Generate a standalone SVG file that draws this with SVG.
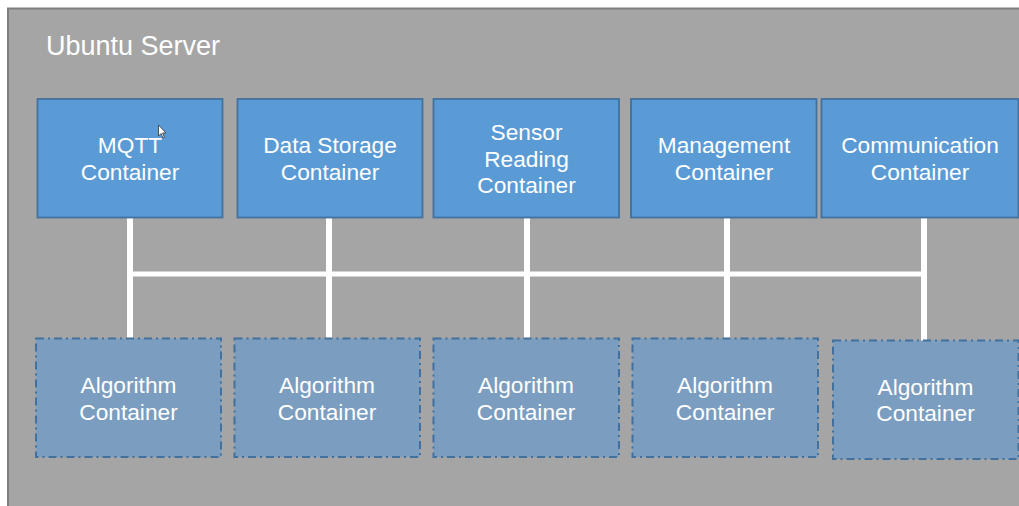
<svg xmlns="http://www.w3.org/2000/svg" width="1019" height="506" viewBox="0 0 1019 506">
<style>
.bg{fill:#a5a5a5;stroke:#7f7f7f;stroke-width:2}
.top{fill:#5b9bd5;stroke:#41719c;stroke-width:1.8}
.alg{fill:#7b9ec0;stroke:#41719c;stroke-width:2;stroke-dasharray:8 4 2 4}
.t{font-family:"Liberation Sans",Arial,sans-serif;font-size:22.7px;fill:#ffffff;text-anchor:middle}
.title{font-family:"Liberation Sans",Arial,sans-serif;font-size:27px;fill:#ffffff}
.c{stroke:#ffffff;fill:none}
</style>
<rect x="0" y="0" width="1019" height="506" fill="#ffffff"/>
<g id="server">
<rect class="bg" x="8" y="8.5" width="1030" height="520"/>
<text class="title" x="46" y="55">Ubuntu Server</text>
</g>
<g id="connectors">
<line class="c" x1="130" y1="274" x2="924" y2="274" stroke-width="5"/>
<line class="c" x1="130" y1="217" x2="130" y2="339" stroke-width="6"/>
<line class="c" x1="329" y1="217" x2="329" y2="339" stroke-width="6"/>
<line class="c" x1="527" y1="217" x2="527" y2="339" stroke-width="6"/>
<line class="c" x1="727" y1="217" x2="727" y2="339" stroke-width="6"/>
<line class="c" x1="924" y1="217" x2="924" y2="341" stroke-width="6"/>
</g>
<g id="mqtt">
<rect class="top" x="37.5" y="99" width="185" height="118.5"/>
<text class="t" x="130" y="153">MQTT</text>
<text class="t" x="130" y="180">Container</text>
</g>
<g id="datastorage">
<rect class="top" x="237.5" y="99" width="185" height="118.5"/>
<text class="t" x="330" y="153">Data Storage</text>
<text class="t" x="330" y="180">Container</text>
</g>
<g id="sensor">
<rect class="top" x="433.5" y="99" width="185.5" height="118.5"/>
<text class="t" x="526.5" y="140">Sensor</text>
<text class="t" x="526.5" y="166.5">Reading</text>
<text class="t" x="526.5" y="193">Container</text>
</g>
<g id="management">
<rect class="top" x="631" y="99" width="185.5" height="118.5"/>
<text class="t" x="724" y="153">Management</text>
<text class="t" x="724" y="180">Container</text>
</g>
<g id="communication">
<rect class="top" x="821.5" y="99" width="197" height="118.5"/>
<text class="t" x="920" y="153">Communication</text>
<text class="t" x="920" y="180">Container</text>
</g>
<g id="alg1">
<rect class="alg" x="36" y="338.5" width="185" height="118.5"/>
<text class="t" x="128.5" y="393">Algorithm</text>
<text class="t" x="128.5" y="419.5">Container</text>
</g>
<g id="alg2">
<rect class="alg" x="234.5" y="338.5" width="185.5" height="118.5"/>
<text class="t" x="327" y="393">Algorithm</text>
<text class="t" x="327" y="419.5">Container</text>
</g>
<g id="alg3">
<rect class="alg" x="433.5" y="338.5" width="185.5" height="118.5"/>
<text class="t" x="526" y="393">Algorithm</text>
<text class="t" x="526" y="419.5">Container</text>
</g>
<g id="alg4">
<rect class="alg" x="632.5" y="338.5" width="185.5" height="118.5"/>
<text class="t" x="725" y="393">Algorithm</text>
<text class="t" x="725" y="419.5">Container</text>
</g>
<g id="alg5">
<rect class="alg" x="833" y="340.5" width="185.5" height="118.5"/>
<text class="t" x="925.5" y="394.5">Algorithm</text>
<text class="t" x="925.5" y="421">Container</text>
</g>
<path d="M158.5 125 L158.5 136 L161 133.5 L163 138 L164.5 137.3 L162.6 133 L166 133 Z" fill="#ffffff" stroke="#333333" stroke-width="0.8"/>
</svg>
